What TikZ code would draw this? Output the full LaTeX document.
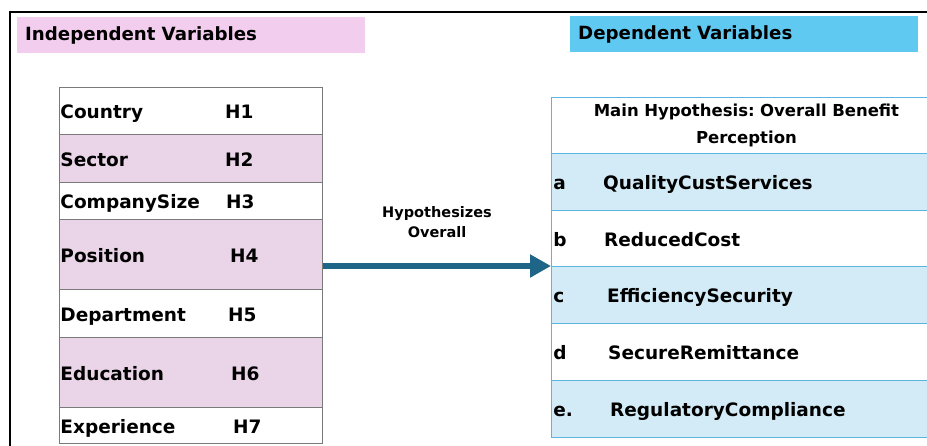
\documentclass[tikz,border=0pt]{standalone}
\usepackage{fontspec}
\usepackage{tikz}
\usetikzlibrary{arrows.meta, positioning}
\newfontfamily\diagfont{DejaVu Sans}
\definecolor{ivhead}{HTML}{F2CDEE}
\definecolor{ivfill}{HTML}{EAD5E8}
\definecolor{ivline}{HTML}{7A7A7A}
\definecolor{dvhead}{HTML}{60C9F1}
\definecolor{dvfill}{HTML}{D2EBF6}
\definecolor{dvline}{HTML}{5BB5E0}
\definecolor{hyparrowc}{HTML}{1E6587}
\tikzset{
  frameline/.style = {draw=black, line width=1.6pt},
  headbox/.style   = {anchor=north west, minimum height=36pt, text width=332pt,
                      inner xsep=8pt, inner ysep=0pt, align=left,
                      font=\diagfont\bfseries\fontsize{18.2}{22}\selectfont},
  celltext/.style  = {text height=20pt, text depth=4pt},
  ivrow/.style     = {draw=ivline, line width=0.9pt, anchor=north west,
                      minimum height=#1, text width=261pt, inner xsep=1pt,
                      inner ysep=0pt, align=left, celltext,
                      font=\diagfont\bfseries\fontsize{18.5}{22}\selectfont},
  dvrow/.style     = {draw=dvline, line width=0.9pt, anchor=north west,
                      minimum height=#1, text width=386pt, inner xsep=2pt,
                      inner ysep=0pt, align=left, celltext,
                      font=\diagfont\bfseries\fontsize{18.5}{22}\selectfont},
  dvtitle/.style   = {draw=dvline, line width=0.9pt, anchor=north west,
                      minimum height=#1, text width=386pt, inner xsep=2pt,
                      inner ysep=0pt, align=center,
                      font=\diagfont\bfseries\frenchspacing\fontsize{16.5}{27}\selectfont},
  hlab/.style      = {anchor=west, inner sep=0pt, celltext,
                      font=\diagfont\bfseries\fontsize{18.5}{22}\selectfont},
  dvname/.style    = {hlab},
  arrowlab/.style  = {align=center, inner sep=0pt,
                      font=\diagfont\bfseries\fontsize{14.5}{20}\selectfont},
  hyparrow/.style  = {draw=hyparrowc, line width=5.5pt,
                      -{Triangle[length=21pt, width=22pt]}},
}

\begin{document}
\begin{tikzpicture}[x=1pt, y=-1pt]
  \useasboundingbox (0,0) rectangle (927,445);
  \draw[frameline] (10,460) -- (10,12) -- (940,12);
  % headers
  \node[headbox, fill=ivhead] (ivhead) at (17,17) {Independent Variables};
  \node[headbox, fill=dvhead] (dvhead) at (570,16) {Dependent Variables};
  % independent variables
  \node[ivrow=47pt, fill=white]  (country) at (59,87)  {Country};
  \node[ivrow=48pt, fill=ivfill] (sector)  at (59,134) {Sector};
  \node[ivrow=37pt, fill=white]  (csize)   at (59,182) {CompanySize};
  \node[ivrow=70pt, fill=ivfill] (posn)    at (59,219) {Position};
  \node[ivrow=48pt, fill=white]  (dept)    at (59,289) {Department};
  \node[ivrow=70pt, fill=ivfill] (educ)    at (59,337) {Education};
  \node[ivrow=36pt, fill=white]  (exper)   at (59,407) {Experience};
  \node[hlab] (h1) at ([xshift=166pt]country.west) {H1};
  \node[hlab] (h2) at ([xshift=166pt]sector.west)  {H2};
  \node[hlab] (h3) at ([xshift=167pt]csize.west)   {H3};
  \node[hlab] (h4) at ([xshift=171pt]posn.west)    {H4};
  \node[hlab] (h5) at ([xshift=169pt]dept.west)    {H5};
  \node[hlab] (h6) at ([xshift=172pt]educ.west)    {H6};
  \node[hlab] (h7) at ([xshift=174pt]exper.west)   {H7};
  % dependent variables
  \node[dvtitle=56pt, fill=white] (mainhyp) at (551,97)
    {Main Hypothesis: Overall Benefit\\Perception};
  \node[dvrow=57pt, fill=dvfill] (rowa) at (551,153) {a};
  \node[dvrow=56pt, fill=white]  (rowb) at (551,210) {b};
  \node[dvrow=57pt, fill=dvfill] (rowc) at (551,266) {c};
  \node[dvrow=57pt, fill=white]  (rowd) at (551,323) {d};
  \node[dvrow=57pt, fill=dvfill] (rowe) at (551,380) {e.};
  \node[dvname] (qual)  at ([xshift=52pt]rowa.west) {QualityCustServices};
  \node[dvname] (cost)  at ([xshift=53pt]rowb.west) {ReducedCost};
  \node[dvname] (effic) at ([xshift=56pt]rowc.west) {EfficiencySecurity};
  \node[dvname] (remit) at ([xshift=57pt]rowd.west) {SecureRemittance};
  \node[dvname] (regul) at ([xshift=59pt]rowe.west) {RegulatoryCompliance};
  % link
  \coordinate (tip) at (rowc.north west);
  \draw[hyparrow] (posn.east |- tip) -- (tip);
  \node[arrowlab] (hyplab) at (437,222) {Hypothesizes\\Overall};
\end{tikzpicture}
\end{document}
